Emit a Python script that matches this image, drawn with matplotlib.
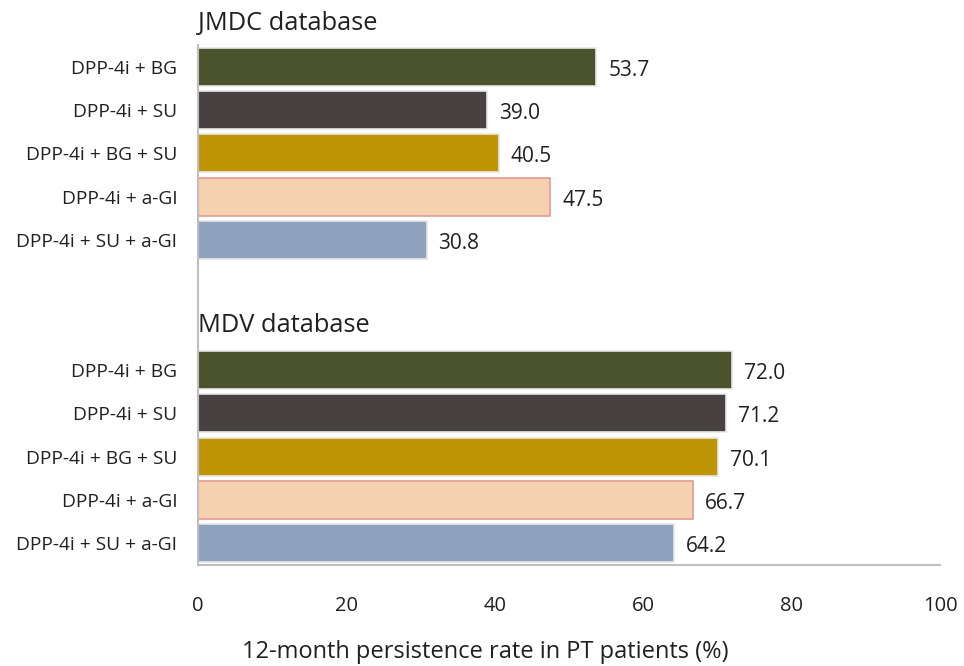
import matplotlib.pyplot as plt
import numpy as np

plt.rcParams['font.family'] = ['Open Sans', 'DejaVu Sans']

combos = ["DPP-4i + BG", "DPP-4i + SU", "DPP-4i + BG + SU", "DPP-4i + a-GI", "DPP-4i + SU + a-GI"]
jmdc = [53.7, 39.0, 40.5, 47.5, 30.8]
mdv = [72.0, 71.2, 70.1, 66.7, 64.2]
colors = ["#4b532c", "#474142", "#c09505", "#f5d1b0", "#8fa2bd"]
edges = ["#e6e6e6", "#e6e6e6", "#e6e6e6", "#e29c94", "#e6e6e6"]


def main():
    fig = plt.figure(figsize=(9.64, 6.66), dpi=100)
    ax = fig.add_axes([0.2054, 0.1517, 0.7697, 0.7807])

    # JMDC rows on top, MDV rows below with a gap for its heading
    y_jmdc = np.arange(5)
    y_mdv = np.arange(5) + 7

    for ys, vals in [(y_jmdc, jmdc), (y_mdv, mdv)]:
        bars = ax.barh(ys, vals, height=0.88, color=colors, edgecolor=edges, linewidth=1.2)
        for b, v in zip(bars, vals):
            ax.text(v + 1.6, b.get_y() + b.get_height() / 2 + 0.08, f"{v:.1f}",
                    va="center", ha="left", fontsize=15, color="#231f20")

    ax.text(0, -1.0, "JMDC database", fontsize=18.3, color="#231f20", va="center", clip_on=False)
    ax.text(0, 5.98, "MDV database", fontsize=18.3, color="#231f20", va="center")

    ax.set_ylim(11.5, -0.5)
    ax.set_xlim(0, 100)
    ax.set_yticks(list(y_jmdc) + list(y_mdv))
    ax.set_yticklabels(combos + combos, fontsize=13.8, color="#231f20")
    ax.set_xticks([0, 20, 40, 60, 80, 100])
    ax.tick_params(axis="y", length=0, pad=15)
    ax.tick_params(axis="x", length=0, pad=22, labelsize=14.5, labelcolor="#231f20")

    fig.text(485 / 964, 1 - 652 / 666, "12-month persistence rate in PT patients (%)",
             fontsize=17, color="#231f20", ha="center", va="center")

    for s in ["top", "right"]:
        ax.spines[s].set_visible(False)
    for s in ["left", "bottom"]:
        ax.spines[s].set_color("#bfbfbf")
        ax.spines[s].set_linewidth(1.5)

    fig.savefig("out.png", dpi=100, facecolor="white")


if __name__ == "__main__":
    main()
